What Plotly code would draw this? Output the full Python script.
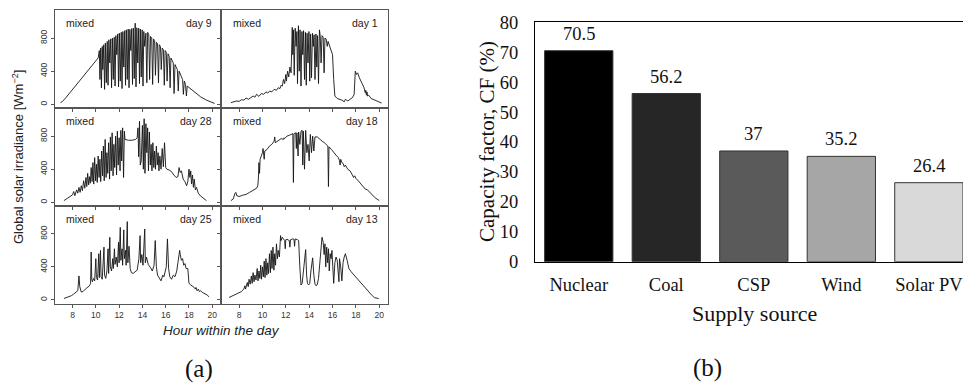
import plotly.graph_objects as go

# ---------------- data: panel (a) global solar irradiance [W m^-2] vs hour ----------------
day9 = [(6.97, 20), (7.1, 30), (7.4, 75), (7.8, 145), (8.3, 230), (8.8, 320), (9.3, 410), (9.8, 500), (10.2, 560),
        (10.30, 650), (10.35, 300), (10.42, 680), (10.48, 200), (10.55, 700), (10.6, 420), (10.68, 720), (10.75, 180),
        (10.82, 740), (10.9, 260), (10.98, 760), (11.05, 230), (11.12, 780), (11.2, 500), (11.28, 790), (11.35, 200),
        (11.42, 800), (11.5, 300), (11.58, 810), (11.65, 220), (11.72, 830), (11.8, 600), (11.88, 850), (11.95, 210),
        (12.02, 860), (12.1, 280), (12.18, 870), (12.25, 190), (12.32, 880), (12.4, 450), (12.48, 890), (12.55, 230),
        (12.62, 900), (12.7, 300), (12.78, 910), (12.85, 200), (12.92, 905), (13.0, 650), (13.08, 915), (13.15, 240),
        (13.22, 920), (13.3, 310), (13.38, 980), (13.45, 210), (13.52, 925), (13.6, 500), (13.68, 920), (13.75, 250),
        (13.82, 910), (13.9, 330), (13.98, 900), (14.05, 220), (14.12, 880), (14.2, 700), (14.3, 860), (14.38, 260),
        (14.45, 870), (14.55, 840), (14.62, 300), (14.7, 820), (14.8, 800), (14.88, 240), (14.95, 790), (15.05, 770),
        (15.12, 350), (15.2, 750), (15.3, 730), (15.38, 260), (15.45, 720), (15.55, 700), (15.62, 420), (15.7, 680),
        (15.8, 660), (15.88, 230), (15.95, 650), (16.05, 630), (16.12, 280), (16.2, 610), (16.3, 580), (16.38, 200),
        (16.45, 560), (16.55, 530), (16.65, 500), (16.72, 130), (16.8, 480), (16.9, 450), (17.0, 420), (17.08, 160),
        (17.15, 400), (17.3, 350), (17.45, 300), (17.52, 120), (17.6, 280), (17.7, 240), (17.78, 100), (17.85, 220),
        (18.2, 180), (18.6, 130), (19.0, 90), (19.5, 50), (20.0, 15), (20.2, 10)]

day1 = [(7.3, 20), (7.5, 25), (7.8, 40), (8.0, 35), (8.2, 55), (8.4, 50), (8.6, 75), (8.8, 60), (9.0, 80), (9.2, 100),
        (9.35, 85), (9.5, 120), (9.7, 95), (9.9, 130), (10.1, 120), (10.3, 150), (10.45, 135), (10.6, 160), (10.8, 150),
        (11.0, 180), (11.2, 170), (11.35, 200), (11.5, 190), (11.6, 230), (11.7, 220), (11.8, 300), (11.9, 250),
        (12.0, 360), (12.05, 280), (12.15, 400), (12.25, 330), (12.35, 450), (12.45, 380), (12.55, 930), (12.6, 600),
        (12.65, 900), (12.72, 350), (12.8, 920), (12.88, 700), (12.95, 880), (13.0, 250), (13.08, 950), (13.15, 400),
        (13.22, 900), (13.3, 220), (13.38, 880), (13.45, 600), (13.52, 890), (13.6, 300), (13.68, 870), (13.75, 230),
        (13.82, 860), (13.9, 500), (13.98, 880), (14.05, 280), (14.12, 850), (14.2, 320), (14.28, 860), (14.35, 700),
        (14.42, 840), (14.5, 300), (14.58, 850), (14.65, 450), (14.72, 830), (14.8, 250), (14.88, 900), (14.95, 820),
        (15.02, 500), (15.1, 830), (15.2, 810), (15.28, 380), (15.35, 800), (15.45, 790), (15.55, 700), (15.62, 760),
        (15.72, 720), (15.8, 680), (15.9, 650), (16.0, 600), (16.1, 300), (16.2, 100), (16.4, 70), (16.6, 60),
        (16.8, 50), (17.0, 30), (17.1, 60), (17.3, 40), (17.5, 55), (17.7, 80), (17.85, 120), (17.95, 400),
        (18.05, 360), (18.15, 380), (18.3, 320), (18.5, 250), (18.7, 200), (18.8, 140), (18.85, 170), (18.9, 110),
        (18.95, 150), (19.0, 100), (19.1, 110), (19.3, 70), (19.6, 50), (19.9, 30), (20.2, 15)]

day28 = [(7.26, 20), (7.5, 40), (7.8, 70), (8.0, 90), (8.1, 130), (8.2, 80), (8.35, 150), (8.45, 110), (8.55, 180),
         (8.65, 120), (8.75, 200), (8.85, 140), (8.95, 260), (9.05, 170), (9.15, 300), (9.22, 190), (9.3, 350),
         (9.38, 210), (9.45, 310), (9.52, 230), (9.6, 420), (9.68, 250), (9.75, 480), (9.82, 220), (9.9, 540),
         (9.98, 260), (10.05, 460), (10.12, 240), (10.2, 560), (10.28, 300), (10.35, 520), (10.42, 250), (10.5, 620),
         (10.58, 320), (10.65, 680), (10.72, 260), (10.8, 760), (10.88, 300), (10.95, 600), (11.02, 350), (11.1, 720),
         (11.18, 280), (11.25, 790), (11.32, 380), (11.4, 840), (11.48, 320), (11.55, 700), (11.62, 420), (11.7, 800),
         (11.78, 330), (11.85, 860), (11.92, 450), (12.0, 780), (12.08, 380), (12.15, 870), (12.22, 500), (12.3, 900),
         (12.38, 300), (12.45, 860), (12.5, 760), (12.8, 750), (13.1, 750), (13.4, 760), (13.55, 780), (13.62, 900),
         (13.68, 550), (13.75, 980), (13.82, 450), (13.9, 500), (14.0, 930), (14.08, 400), (14.15, 1010), (14.22, 350),
         (14.3, 950), (14.38, 600), (14.45, 900), (14.52, 380), (14.6, 850), (14.68, 450), (14.75, 700), (14.82, 380),
         (14.9, 720), (14.98, 420), (15.05, 620), (15.12, 400), (15.2, 680), (15.28, 450), (15.35, 600), (15.42, 380),
         (15.5, 560), (15.6, 400), (15.7, 650), (15.8, 430), (15.9, 720), (16.0, 420), (16.1, 400), (16.3, 390),
         (16.5, 370), (16.7, 330), (16.9, 300), (17.05, 310), (17.15, 420), (17.25, 360), (17.35, 380), (17.5, 280),
         (17.65, 250), (17.8, 200), (17.9, 250), (18.0, 400), (18.08, 300), (18.15, 380), (18.22, 220), (18.3, 330),
         (18.38, 180), (18.45, 280), (18.55, 150), (18.65, 180), (18.8, 110), (19.0, 75), (19.2, 50), (19.5, 20)]

day18 = [(7.3, 20), (7.5, 40), (7.65, 110), (7.72, 120), (7.8, 80), (8.0, 70), (8.3, 85), (8.6, 95), (8.9, 120),
         (9.2, 150), (9.5, 170), (9.6, 200), (9.65, 280), (9.7, 480), (9.75, 350), (9.8, 520), (9.9, 560), (10.0, 600),
         (10.05, 650), (10.1, 610), (10.15, 520), (10.2, 620), (10.4, 640), (10.6, 680), (10.8, 700), (11.0, 740),
         (11.05, 790), (11.1, 720), (11.3, 740), (11.6, 770), (11.8, 760), (11.85, 780), (11.9, 770), (12.1, 800),
         (12.3, 810), (12.5, 820), (12.6, 830), (12.65, 240), (12.7, 830), (12.85, 840), (12.9, 650), (12.95, 840),
         (13.05, 560), (13.1, 850), (13.2, 700), (13.3, 860), (13.4, 870), (13.45, 450), (13.5, 860), (13.6, 400),
         (13.7, 870), (13.8, 600), (13.9, 700), (14.0, 500), (14.1, 820), (14.2, 600), (14.3, 800), (14.4, 620),
         (14.5, 790), (14.7, 790), (14.9, 760), (15.1, 740), (15.3, 720), (15.5, 690), (15.6, 680), (15.65, 190),
         (15.7, 670), (15.9, 640), (16.1, 600), (16.3, 570), (16.5, 540), (16.6, 500), (16.65, 450), (16.7, 520),
         (16.8, 480), (16.9, 470), (17.0, 430), (17.1, 450), (17.3, 400), (17.5, 380), (17.7, 330), (17.8, 300),
         (17.9, 320), (18.0, 290), (18.2, 260), (18.4, 230), (18.6, 190), (18.8, 160), (19.0, 150), (19.3, 100),
         (19.6, 60), (20.0, 20)]

day25 = [(7.26, 16), (7.6, 30), (7.9, 50), (8.1, 70), (8.3, 90), (8.45, 110), (8.55, 290), (8.62, 160), (8.75, 95),
         (8.9, 100), (9.1, 130), (9.3, 150), (9.45, 170), (9.55, 200), (9.6, 580), (9.65, 250), (9.7, 220), (9.8, 260),
         (9.9, 230), (10.0, 500), (10.05, 270), (10.15, 240), (10.25, 560), (10.3, 270), (10.4, 600), (10.45, 280),
         (10.55, 250), (10.7, 640), (10.75, 300), (10.85, 260), (10.95, 350), (11.05, 620), (11.1, 320), (11.2, 760),
         (11.25, 400), (11.35, 350), (11.45, 500), (11.5, 380), (11.6, 620), (11.65, 430), (11.75, 520), (11.85, 400),
         (11.95, 700), (12.0, 450), (12.1, 880), (12.15, 480), (12.25, 620), (12.3, 420), (12.4, 850), (12.45, 500),
         (12.55, 600), (12.6, 420), (12.7, 950), (12.75, 450), (12.85, 650), (12.95, 380), (13.05, 330), (13.2, 320),
         (13.4, 340), (13.55, 360), (13.7, 500), (13.8, 780), (13.85, 450), (13.95, 550), (14.05, 420), (14.2, 860),
         (14.25, 450), (14.35, 520), (14.5, 430), (14.6, 400), (14.7, 390), (14.85, 350), (15.0, 420), (15.1, 720),
         (15.2, 400), (15.3, 300), (15.45, 260), (15.6, 230), (15.75, 300), (15.85, 280), (16.05, 400), (16.15, 740),
         (16.25, 380), (16.35, 280), (16.5, 250), (16.65, 300), (16.8, 280), (16.95, 350), (17.05, 450), (17.2, 600),
         (17.25, 550), (17.35, 480), (17.45, 500), (17.55, 420), (17.65, 440), (17.75, 380), (17.9, 380), (18.0, 200),
         (18.15, 180), (18.3, 170), (18.45, 150), (18.55, 130), (18.6, 150), (18.7, 110), (18.8, 130), (18.9, 100),
         (19.0, 110), (19.15, 90), (19.3, 80), (19.45, 60), (19.6, 55), (19.7, 36)]

day13 = [(7.14, 28), (7.4, 45), (7.7, 65), (8.0, 85), (8.2, 100), (8.4, 130), (8.5, 170), (8.55, 130), (8.7, 210),
         (8.78, 160), (8.85, 250), (8.95, 190), (9.05, 290), (9.12, 200), (9.2, 330), (9.28, 220), (9.35, 300),
         (9.45, 240), (9.55, 380), (9.62, 230), (9.7, 350), (9.78, 260), (9.85, 420), (9.92, 250), (10.0, 400),
         (10.08, 280), (10.15, 470), (10.22, 270), (10.3, 500), (10.38, 300), (10.45, 450), (10.52, 320), (10.6, 560),
         (10.68, 330), (10.75, 600), (10.82, 380), (10.9, 640), (10.98, 360), (11.05, 560), (11.12, 420), (11.2, 680),
         (11.28, 500), (11.35, 600), (11.45, 520), (11.55, 780), (11.6, 720), (11.7, 760), (11.8, 740), (11.9, 720),
         (11.95, 620), (12.0, 730), (12.1, 735), (12.3, 720), (12.35, 640), (12.4, 730), (12.6, 740), (12.7, 735),
         (12.75, 650), (12.8, 740), (13.0, 730), (13.1, 720), (13.2, 400), (13.3, 180), (13.4, 200), (13.5, 350),
         (13.6, 500), (13.7, 610), (13.78, 300), (13.85, 200), (13.95, 180), (14.05, 200), (14.15, 350), (14.3, 510),
         (14.4, 300), (14.5, 190), (14.6, 170), (14.7, 190), (14.8, 260), (14.9, 450), (15.0, 600), (15.1, 760),
         (15.2, 700), (15.28, 550), (15.35, 680), (15.42, 400), (15.5, 640), (15.58, 450), (15.65, 620), (15.72, 350),
         (15.8, 560), (15.88, 500), (15.95, 600), (16.02, 300), (16.1, 200), (16.2, 450), (16.3, 520), (16.4, 480),
         (16.5, 250), (16.55, 220), (16.6, 500), (16.7, 400), (16.8, 230), (16.9, 450), (17.0, 520), (17.1, 560),
         (17.25, 480), (17.4, 380), (17.6, 340), (17.9, 290), (18.2, 240), (18.5, 190), (18.8, 140), (19.1, 90),
         (19.4, 50), (19.6, 25), (19.95, 15)]

panel_days = ["day 9", "day 1", "day 28", "day 18", "day 25", "day 13"]
panel_series = [day9, day1, day28, day18, day25, day13]
panel_condition = ["mixed"] * 6
hour_ticks = [8, 10, 12, 14, 16, 18, 20]
irr_ticks = [0, 400, 800]

# ---------------- data: panel (b) capacity factor ----------------
sources = ["Nuclear", "Coal", "CSP", "Wind", "Solar PV"]
capacity_factor = [70.5, 56.2, 37, 35.2, 26.4]
cf_labels = ["70.5", "56.2", "37", "35.2", "26.4"]
cf_ticks = [0, 10, 20, 30, 40, 50, 60, 70, 80]

# ---------------- layout helpers ----------------
W, H = 963, 386
def px_x(p):
    return p / W
def px_y(p):
    return 1 - p / H

col_px = [(54.5, 221.0), (221.0, 388.0)]
row_px = [(10.0, 108.0), (108.0, 206.0), (206.0, 303.5)]

fig = go.Figure()
layout = dict(
    template="none",
    width=W, height=H, margin=dict(l=0, r=0, t=0, b=0, pad=0, autoexpand=False),
    paper_bgcolor="white", plot_bgcolor="white", showlegend=False,
    font=dict(family="Liberation Sans, Arial, sans-serif", color="#222"),
)
annotations = []
LEFT_FONT = "Liberation Sans, Arial, sans-serif"
SERIF = "Liberation Serif, Times New Roman, serif"

def paper_text(x, y, text, size, family, color="#111", angle=0):
    return dict(x=px_x(x), y=px_y(y), xref="paper", yref="paper", text=text,
                showarrow=False, xanchor="center", yanchor="middle", textangle=angle,
                font=dict(size=size, color=color, family=family))

for i, series in enumerate(panel_series):
    r, c = divmod(i, 2)
    n = i + 1
    xname = "x" if n == 1 else f"x{n}"
    yname = "y" if n == 1 else f"y{n}"
    hrs = [p[0] for p in series]
    vals = [p[1] for p in series]
    fig.add_trace(go.Scatter(x=hrs, y=vals, mode="lines", xaxis=xname, yaxis=yname,
                             line=dict(color="#141414", width=0.9), hoverinfo="skip"))
    x0, x1 = col_px[c]
    y0, y1 = row_px[r]
    layout[f"xaxis{n if n > 1 else ''}"] = dict(
        domain=[px_x(x0), px_x(x1)], anchor=yname, range=[6.45, 20.75], automargin=False,
        tickvals=hour_ticks, ticks="outside", ticklen=3, tickcolor="#555",
        showticklabels=(r == 2), tickfont=dict(size=8.5, color="#333", family=LEFT_FONT),
        showline=True, mirror=True, linecolor="#555", linewidth=1,
        showgrid=False, zeroline=False, fixedrange=True,
    )
    layout[f"yaxis{n if n > 1 else ''}"] = dict(
        domain=[px_y(y1), px_y(y0)], anchor=xname, range=[-45, 1140], automargin=False,
        tickvals=irr_ticks, ticks="outside", ticklen=3, tickcolor="#555",
        showticklabels=(c == 0), tickangle=-90, tickfont=dict(size=8.5, color="#333", family=LEFT_FONT),
        showline=True, mirror=True, linecolor="#555", linewidth=1,
        showgrid=False, zeroline=False, fixedrange=True,
    )
    dom = f"{xname} domain"
    ydom = f"{yname} domain"
    annotations.append(dict(x=0.06, y=0.865, xref=dom, yref=ydom, text=panel_condition[i],
                            showarrow=False, xanchor="left", yanchor="middle",
                            font=dict(size=10.5, color="#222", family=LEFT_FONT)))
    annotations.append(dict(x=0.955, y=0.865, xref=dom, yref=ydom, text=panel_days[i],
                            showarrow=False, xanchor="right", yanchor="middle",
                            font=dict(size=10.5, color="#222", family=LEFT_FONT)))

# axis titles for panel (a)
annotations.append(paper_text(18, 157, "Global solar irradiance [Wm<sup>−2</sup>]", 13, LEFT_FONT, "#222", -90))
annotations.append(paper_text(221, 330, "<i>Hour within the day</i>", 13.5, LEFT_FONT, "#222"))
annotations.append(paper_text(198.5, 369, "(a)", 25, SERIF))

# ---------------- panel (b) bar chart ----------------
bar_colors = ["#000000", "#262626", "#5a5a5a", "#a6a6a6", "#d9d9d9"]
fig.add_trace(go.Bar(x=sources, y=capacity_factor, xaxis="x7", yaxis="y7", width=0.78,
                     marker=dict(color=bar_colors, line=dict(color="#333333", width=1)),
                     hoverinfo="skip"))
layout["xaxis7"] = dict(
    domain=[px_x(535), 1.0], anchor="y7", range=[-0.5, 4.39], automargin=False,
    showline=True, mirror=True, linecolor="#000", linewidth=1.2, ticks="",
    tickfont=dict(size=18.5, color="#111", family=SERIF), showgrid=False, zeroline=False,
    ticklabelstandoff=6, fixedrange=True,
)
layout["yaxis7"] = dict(
    domain=[px_y(261.7), px_y(22.3)], anchor="x7", range=[0, 80], automargin=False,
    tickvals=cf_ticks, showline=True, mirror=False, linecolor="#000", linewidth=1.2, ticks="",
    tickfont=dict(size=18.5, color="#111", family=SERIF), showgrid=False, zeroline=False,
    ticklabelstandoff=12, fixedrange=True,
)
for s, v, lab in zip(sources, capacity_factor, cf_labels):
    annotations.append(dict(x=s, y=v, xref="x7", yref="y7", text=lab, showarrow=False,
                            xanchor="center", yanchor="bottom", yshift=5,
                            font=dict(size=18.5, color="#111", family=SERIF)))
annotations.append(paper_text(487, 142, "Capacity factor, CF (%)", 21, SERIF, "#111", -90))
annotations.append(paper_text(754.5, 313, "Supply source", 22, SERIF))
annotations.append(paper_text(707, 368, "(b)", 25, SERIF))

layout["annotations"] = annotations
fig.update_layout(**layout)
fig.write_html("out.html")
